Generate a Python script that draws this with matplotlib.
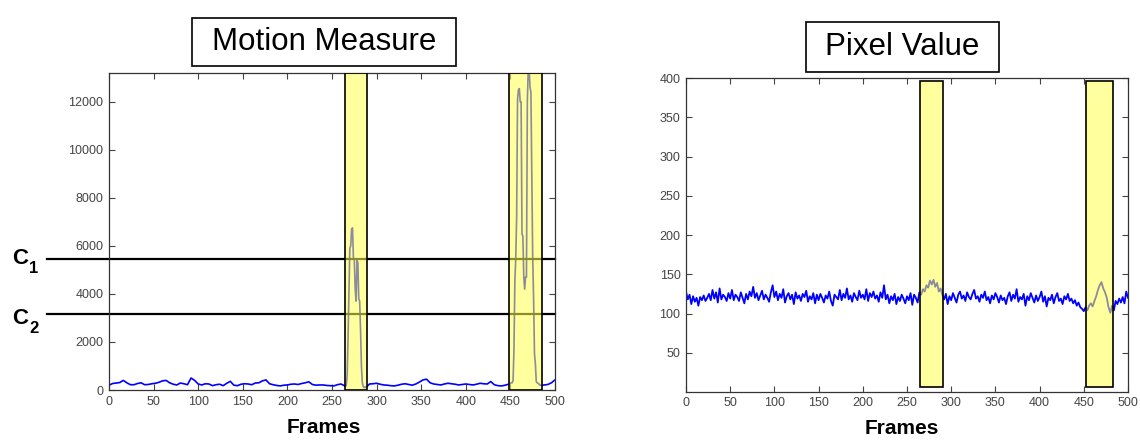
import numpy as np
import matplotlib
matplotlib.use('Agg')
import matplotlib.pyplot as plt
from matplotlib.patches import Rectangle

plt.rcParams['font.family'] = ['Liberation Sans', 'DejaVu Sans']

# ---------------- data ----------------
# Motion measure: baseline sampled every 4 frames, event peaks every frame
motion_base_a = [200, 270, 290, 310, 400, 300, 220, 220, 270, 300,
                 220, 230, 260, 280, 320, 380, 400, 300, 240, 210,
                 290, 260, 220, 500, 400, 250, 210, 260, 250, 180,
                 220, 240, 180, 280, 360, 200, 180, 240, 260, 250,
                 220, 290, 300, 380, 420, 260, 220, 190, 170, 200,
                 210, 240, 250, 230, 270, 300, 340, 230, 200, 210,
                 210, 190, 180, 170, 220, 250, 180]            # frames 0..264
motion_peak_1 = [150, 200, 600, 2200, 4000, 5900, 6000, 6700, 6750, 5500,
                 5400, 4200, 3700, 5400, 5300, 3800, 3700, 2500, 1000, 300,
                 150, 100, 120, 100]                            # frames 265..288
motion_base_b = [250, 260, 280, 240, 210, 200, 180, 170, 200, 240,
                 260, 230, 200, 250, 330, 420, 450, 300, 250, 230,
                 210, 250, 280, 260, 240, 210, 230, 250, 230, 210,
                 240, 280, 260, 250, 350, 220, 180, 170, 200, 240]  # frames 292..448
motion_peak_2 = [250, 280, 300, 300, 400, 1700, 4500, 5500, 7200, 12100,
                 12500, 12550, 12000, 12000, 6500, 6400, 4700, 4200, 4700, 4700,
                 12000, 13400, 13400, 12600, 12400, 9000, 5500, 3800, 1500, 1100,
                 350, 300, 280, 250, 200, 200, 180, 200]        # frames 449..486
motion_tail = [210, 230, 300, 420]                              # frames 488..500

motion_frames = np.concatenate([np.arange(0, 265, 4), np.arange(265, 289),
                                np.arange(292, 449, 4), np.arange(449, 487),
                                np.arange(488, 501, 4)])
motion_values = np.concatenate([motion_base_a, motion_peak_1, motion_base_b,
                                motion_peak_2, motion_tail])

# Pixel value, every 2 frames (0..500)
pixel_values = [
    128, 118, 124, 112, 122, 115, 120, 110, 121, 117, 123, 116, 120, 125, 117, 130, 119, 127, 114, 132, 118, 124, 121, 116, 126,
    119, 130, 117, 124, 121, 116, 127, 120, 113, 125, 118, 128, 122, 134, 120, 126, 117, 123, 129, 118, 124, 120, 115, 127, 136,
    121, 128, 117, 125, 120, 131, 114, 122, 126, 118, 124, 112, 127, 119, 123, 116, 125, 121, 129, 115, 122, 118, 126, 113, 124,
    117, 125, 120, 114, 123, 119, 128, 116, 110, 124, 121, 118, 130, 117, 125, 120, 132, 118, 123, 115, 126, 121, 117, 129, 120,
    124, 118, 131, 116, 126, 121, 128, 119, 123, 115, 127, 120, 136, 118, 124, 113, 122, 117, 125, 112, 121, 116, 124, 119, 113,
    122, 117, 126, 111, 124, 120, 114, 127, 124, 131, 128, 136, 133, 142, 137, 143, 134, 139, 128, 132, 124, 118, 125, 112, 122,
    117, 126, 120, 114, 124, 128, 119, 123, 116, 127, 121, 118, 125, 130, 119, 122, 115, 124, 120, 128, 117, 121, 113, 123, 118,
    126, 121, 114, 123, 117, 120, 112, 122, 127, 116, 124, 119, 131, 115, 121, 118, 125, 110, 122, 117, 126, 120, 114, 123, 116,
    121, 128, 115, 122, 109, 120, 117, 124, 113, 121, 126, 116, 119, 112, 122, 118, 125, 116, 119, 113, 117, 110, 114, 108, 106,
    103, 108, 104, 110, 113, 109, 116, 122, 130, 136, 140, 132, 127, 120, 108, 101, 110, 104, 116, 112, 119, 114, 121, 113, 128,
    120]
pixel_frames = np.arange(0, 2 * len(pixel_values), 2)

motion_events = [(264.6, 288.9), (448.8, 485.6)]
pixel_events = [(265.0, 290.4), (452.6, 482.7)]
threshold_names = ['1', '2']
threshold_values = [5440, 3150]

x_ticks = list(range(0, 501, 50))
motion_yticks = list(range(0, 12001, 2000))
pixel_yticks = list(range(50, 401, 50))

# ---------------- figure ----------------
W, H = 1140, 440
fig = plt.figure(figsize=(W / 100, H / 100), dpi=100)
fig.patch.set_facecolor('white')

def fx(px):
    return px / W

def fy(py):
    return 1 - py / H

ax1 = fig.add_axes([fx(109), fy(390), (555 - 109) / W, (390 - 73) / H])
ax2 = fig.add_axes([fx(686), fy(391.9), (1128 - 686) / W, (391.9 - 78.3) / H])

blue = (0, 0, 1)
yellow = (1, 1, 0.3, 0.55)

# left panel
ax1.plot(motion_frames, motion_values, color=blue, lw=1.2, zorder=2)
ax1.set_xlim(0, 500)
ax1.set_ylim(0, 13200)
for v in threshold_values:
    ax1.plot([-69.5, 500], [v, v], color='k', lw=1.6, clip_on=False, zorder=2)
for a, b in motion_events:
    ax1.add_patch(Rectangle((a, 0), b - a, 13200, facecolor=yellow,
                            edgecolor='k', lw=1.2, zorder=3))
ax1.set_xticks(x_ticks)
ax1.set_yticks(motion_yticks)

# right panel
ax2.plot(pixel_frames, pixel_values, color=blue, lw=1.3, zorder=2)
ax2.set_xlim(0, 500)
ax2.set_ylim(0, 400)
for a, b in pixel_events:
    ax2.add_patch(Rectangle((a, 6), b - a, 391, facecolor=yellow,
                            edgecolor='k', lw=1.2, zorder=3))
ax2.set_xticks(x_ticks)
ax2.set_yticks(pixel_yticks)

for ax in (ax1, ax2):
    ax.tick_params(direction='in', top=True, right=True, length=4, width=0.8,
                   labelsize=9, labelcolor='#444444', color='#444444', pad=4)
    for s in ax.spines.values():
        s.set_color('#333333')
        s.set_linewidth(0.9)

# title boxes
fig.add_artist(Rectangle((fx(192), fy(66)), 264 / W, 48 / H, transform=fig.transFigure,
                         fill=False, edgecolor='k', lw=1.2))
fig.text(fx(324), fy(42), 'Motion Measure', fontsize=22.5, ha='center', va='center')
fig.add_artist(Rectangle((fx(806), fy(72)), 193 / W, 50 / H, transform=fig.transFigure,
                         fill=False, edgecolor='k', lw=1.2))
fig.text(fx(902.5), fy(47), 'Pixel Value', fontsize=22.5, ha='center', va='center')

# x labels
fig.text(fx(324), fy(427), 'Frames', fontsize=15, fontweight='bold', ha='center', va='center')
fig.text(fx(902), fy(428), 'Frames', fontsize=15, fontweight='bold', ha='center', va='center')

# threshold labels
for name, py in zip(threshold_names, [258, 318]):
    fig.text(fx(12), fy(py), 'C', fontsize=16, fontweight='bold', ha='left', va='center')
    fig.text(fx(29), fy(py + 10), name, fontsize=12, fontweight='bold', ha='left', va='center')

fig.savefig('out.png', dpi=100, facecolor='white')
